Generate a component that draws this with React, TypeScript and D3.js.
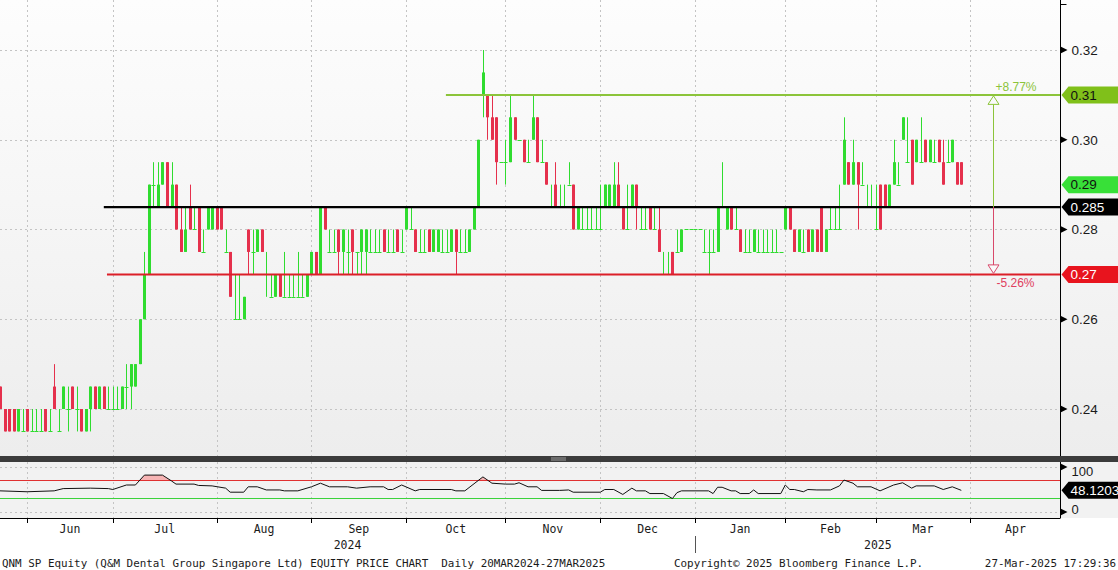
import React, { useEffect } from 'react';
import * as d3 from 'd3';

// QNM SP daily bars, one per trading day, [open, high, low, close]
const candles: [number, number, number, number][] = [
  [.245, .245, .24, .24], [.24, .24, .235, .235], [.24, .24, .235, .235], [.24, .24, .235, .235], [.235, .24, .235, .24], [.235, .24, .235, .235],
  [.24, .24, .235, .235], [.235, .24, .235, .235], [.235, .24, .235, .235], [.235, .24, .235, .235], [.24, .24, .235, .235], [.235, .24, .235, .235],
  [.245, .25, .24, .24], [.235, .24, .235, .235], [.24, .245, .24, .245], [.24, .245, .235, .24], [.245, .245, .24, .24], [.24, .245, .235, .24],
  [.24, .24, .235, .235], [.235, .24, .235, .24], [.24, .245, .235, .245], [.245, .245, .24, .24], [.24, .245, .24, .245], [.245, .245, .24, .24],
  [.24, .245, .24, .24], [.24, .245, .24, .24], [.24, .245, .24, .24], [.24, .245, .24, .245], [.245, .25, .24, .245], [.245, .25, .24, .25],
  [.245, .25, .245, .25], [.25, .26, .25, .26], [.26, .275, .26, .27], [.27, .29, .27, .29], [.29, .295, .285, .29], [.285, .295, .285, .29],
  [.29, .295, .29, .295], [.295, .295, .285, .285], [.285, .295, .285, .29], [.29, .29, .28, .28], [.28, .285, .275, .275], [.275, .285, .275, .28],
  [.285, .29, .28, .28], [.28, .285, .28, .28], [.285, .285, .275, .275], [.275, .28, .275, .275], [.28, .285, .28, .285], [.28, .285, .28, .285],
  [.285, .285, .28, .28], [.285, .285, .28, .28], [.275, .28, .275, .275], [.275, .275, .265, .265], [.26, .27, .26, .26], [.26, .27, .26, .26],
  [.26, .265, .26, .265], [.28, .28, .27, .275], [.275, .28, .27, .275], [.275, .28, .275, .28], [.28, .28, .275, .275], [.27, .275, .265, .27],
  [.265, .27, .265, .265], [.265, .27, .265, .27], [.27, .27, .265, .265], [.265, .275, .265, .265], [.265, .27, .265, .265], [.265, .27, .265, .265],
  [.265, .275, .265, .265], [.265, .27, .265, .265], [.265, .27, .265, .27], [.27, .275, .27, .275], [.275, .275, .27, .27], [.27, .285, .27, .285],
  [.285, .285, .28, .28], [.275, .28, .275, .275], [.275, .28, .275, .275], [.28, .28, .27, .275], [.275, .28, .27, .28], [.275, .28, .27, .275],
  [.28, .28, .27, .275], [.275, .275, .27, .275], [.275, .28, .27, .28], [.275, .28, .27, .28], [.275, .28, .275, .275], [.275, .28, .275, .275],
  [.275, .28, .275, .275], [.28, .28, .275, .275], [.275, .28, .275, .275], [.275, .28, .275, .275], [.28, .28, .275, .275], [.275, .28, .275, .275],
  [.28, .285, .28, .285], [.28, .285, .28, .28], [.28, .28, .275, .275], [.275, .28, .275, .275], [.275, .28, .275, .275], [.28, .28, .275, .275],
  [.275, .28, .275, .28], [.275, .28, .275, .28], [.275, .28, .275, .275], [.275, .28, .275, .275], [.275, .28, .275, .28], [.28, .28, .27, .275],
  [.275, .28, .275, .275], [.275, .28, .275, .275], [.275, .28, .275, .28], [.28, .285, .28, .285], [.285, .30, .285, .30], [.31, .32, .305, .315],
  [.31, .31, .30, .305], [.305, .31, .30, .30], [.305, .305, .29, .295], [.295, .295, .295, .295], [.295, .30, .29, .295], [.295, .31, .295, .305],
  [.305, .305, .30, .30], [.30, .30, .30, .30], [.30, .30, .295, .295], [.295, .30, .295, .295], [.30, .31, .30, .305], [.305, .305, .295, .295],
  [.295, .30, .295, .295], [.295, .295, .29, .29], [.285, .29, .285, .285], [.29, .295, .285, .285], [.285, .29, .285, .285], [.285, .29, .285, .285],
  [.29, .295, .29, .29], [.29, .29, .28, .28], [.28, .285, .28, .285], [.28, .285, .28, .28], [.28, .285, .28, .28], [.28, .285, .28, .28],
  [.28, .285, .28, .28], [.28, .29, .28, .28], [.285, .29, .285, .29], [.285, .29, .285, .29], [.285, .295, .285, .29], [.29, .295, .285, .285],
  [.285, .285, .28, .28], [.28, .29, .28, .28], [.285, .29, .285, .29], [.29, .29, .28, .285], [.28, .285, .28, .28], [.28, .285, .28, .28],
  [.285, .285, .28, .28], [.28, .285, .28, .28], [.28, .285, .275, .275], [.27, .275, .27, .27], [.27, .275, .27, .27], [.275, .275, .27, .27],
  [.275, .28, .275, .275], [.275, .28, .275, .28], [.28, .28, .28, .28], [.28, .28, .28, .28], [.28, .28, .28, .28], [.28, .28, .28, .28],
  [.275, .28, .275, .275], [.275, .28, .27, .275], [.275, .28, .275, .275], [.275, .285, .275, .285], [.285, .295, .285, .285], [.28, .285, .28, .285],
  [.285, .285, .28, .28], [.28, .285, .28, .28], [.28, .28, .275, .275], [.275, .28, .275, .275], [.275, .28, .275, .275], [.275, .28, .275, .28],
  [.275, .28, .275, .275], [.275, .28, .275, .275], [.275, .28, .275, .275], [.275, .28, .275, .275], [.275, .28, .275, .275], [.275, .275, .275, .275],
  [.28, .285, .28, .285], [.285, .285, .28, .28], [.28, .28, .275, .275], [.275, .28, .275, .28], [.275, .28, .275, .275], [.28, .28, .275, .275],
  [.275, .28, .275, .28], [.28, .28, .275, .275], [.285, .285, .275, .275], [.275, .28, .275, .28], [.28, .285, .28, .28], [.28, .285, .28, .28],
  [.28, .29, .28, .28], [.29, .305, .29, .30], [.295, .295, .29, .29], [.29, .30, .29, .295], [.295, .295, .28, .29], [.29, .295, .29, .29],
  [.285, .29, .285, .285], [.285, .29, .285, .285], [.28, .29, .28, .28], [.29, .29, .28, .28], [.29, .29, .285, .285], [.285, .29, .285, .29],
  [.29, .30, .29, .295], [.29, .295, .29, .29], [.30, .305, .30, .305], [.295, .305, .295, .295], [.30, .30, .29, .29], [.295, .30, .295, .30],
  [.295, .305, .295, .295], [.30, .30, .295, .295], [.295, .30, .295, .30], [.295, .30, .295, .295], [.30, .30, .295, .295], [.295, .30, .29, .29],
  [.295, .30, .295, .295], [.295, .30, .295, .30], [.295, .295, .29, .29], [.295, .295, .29, .29],
];

const months = ['Jun', 'Jul', 'Aug', 'Sep', 'Oct', 'Nov', 'Dec', 'Jan', 'Feb', 'Mar', 'Apr'];
const monthStart = [6, 25, 48, 69, 90, 112, 133, 154, 174, 194, 215]; // trading-day index
const years = ['2024', '2025'];
const yearStart = [0, 154];
const lastDay = 235;

const priceTicks = [0.24, 0.26, 0.28, 0.3, 0.32];
const rsiTicks = [0, 100];

// RSI read at sampled trading days [day, value]
const rsi: [number, number][] = [
  [0, 47], [6, 45], [12, 47], [14, 52], [20, 53], [24, 52], [25, 50], [28, 60], [30, 60], [32, 82], [36, 82], [38, 69],
  [39, 62], [43, 62], [44, 59], [47, 58], [50, 53], [51, 44], [54, 44], [55, 56], [57, 56], [59, 49], [62, 49], [63, 47],
  [66, 47], [69, 56], [71, 64], [73, 56], [77, 56], [79, 53], [82, 56], [85, 56], [86, 50], [87, 50], [89, 60], [92, 47],
  [93, 50], [100, 50], [101, 47], [103, 47], [107, 78], [109, 64], [112, 62], [114, 62], [115, 65], [117, 56], [119, 56],
  [120, 48], [124, 48], [126, 49], [127, 44], [133, 44], [134, 50], [136, 50], [138, 39], [140, 53], [141, 47], [143, 47],
  [144, 41], [147, 41], [149, 30], [150, 43], [151, 47], [157, 47], [158, 41], [159, 55], [160, 55], [162, 47], [163, 47],
  [164, 41], [166, 41], [167, 49], [168, 41], [173, 41], [174, 60], [175, 50], [176, 50], [178, 45], [179, 50], [181, 49],
  [184, 49], [186, 58], [187, 71], [189, 64], [190, 56], [193, 56], [195, 47], [198, 60], [200, 65], [202, 53], [203, 58],
  [207, 58], [209, 50], [211, 56], [213, 48.12],
];
const rsiLast = '48.1203';
const rsiHigh = 70;
const rsiLow = 30;

const resistance = 0.31;
const pivot = 0.285;
const support = 0.27;
const lastPrice = 0.29;
const resistanceFrom = 98.8;
const pivotFrom = 23;
const supportFrom = 23.7;
const arrowDay = 220;
const upLabel = '+8.77%';
const downLabel = '-5.26%';

const W = 1118;
const H = 570;
const AX = 1060.5;
const SANS = 'Liberation Sans, Arial, sans-serif';
const MONO = 'DejaVu Sans Mono, monospace';
const GREEN = '#2fdc2f';
const RED = '#e5304c';
const OLIVE = '#8cc43a';

const x = d3.scaleLinear().domain([0, lastDay]).range([0, 1060.6]);
const y = d3.scaleLinear().domain([0.24, 0.32]).range([409, 50]);
const ry = d3.scaleLinear().domain([0, 100]).range([512, 467]);
const fmt = d3.format('.2f');

const Tag = ({ cy, fill, color, label }: { cy: number; fill: string; color: string; label: string }) => (
  <g>
    <path d={`M${AX + 1},${cy} L${AX + 8},${cy - 8.5} H${W} V${cy + 8.5} H${AX + 8} Z`} fill={fill} />
    <text x={AX + 10} y={cy} dy="0.36em" fontSize={13.5} fill={color} fontFamily={SANS}>
      {label}
    </text>
  </g>
);

const Tick = ({ cy }: { cy: number }) => (
  <path d={`M${AX},${cy - 3.5} L${AX + 7},${cy} L${AX},${cy + 3.5} Z`} fill="#000" />
);

const App = () => {
  useEffect(() => {
    document.body.style.margin = '0';
  }, []);

  const rsiLine = d3.line<[number, number]>().x((d) => x(d[0])).y((d) => ry(d[1]));
  const rsiArea = d3
    .area<[number, number]>()
    .x((d) => x(d[0]))
    .y0(ry(rsiHigh))
    .y1((d) => ry(d[1]));

  const ax = Math.round(x(arrowDay)) + 0.5;
  const yr = y(resistance);
  const yp = y(pivot);
  const ys = y(support);

  const bounds = monthStart.concat([lastDay]);

  return (
    <svg width={W} height={H} style={{ position: 'absolute', left: 0, top: 0, background: '#fff' }}>
      <defs>
        <linearGradient id="bg" x1="0" y1="0" x2="0" y2="1">
          <stop offset="0" stopColor="#fdfdfd" />
          <stop offset="1" stopColor="#ededed" />
        </linearGradient>
        <clipPath id="ob">
          <rect x={0} y={462} width={AX} height={ry(rsiHigh) - 462} />
        </clipPath>
      </defs>

      {/* panels */}
      <rect x={0} y={0} width={W} height={456} fill="url(#bg)" />
      <rect x={0} y={462} width={W} height={56} fill="#f2f2f2" />
      <rect x={0} y={456} width={W} height={6} fill="#3c3c3c" />
      <line x1={551} x2={566} y1={458} y2={458} stroke="#9a9a9a" />
      <line x1={551} x2={566} y1={460} y2={460} stroke="#9a9a9a" />

      {/* grid */}
      <g stroke="#c4c4c4" strokeDasharray="2,3">
        {priceTicks.map((p) => (
          <line key={p} x1={0} x2={AX} y1={Math.round(y(p)) + 0.5} y2={Math.round(y(p)) + 0.5} />
        ))}
        {rsiTicks.map((v) => (
          <line key={v} x1={0} x2={AX} y1={Math.round(ry(v)) + 0.5} y2={Math.round(ry(v)) + 0.5} />
        ))}
        {monthStart.map((m) => (
          <g key={m}>
            <line x1={Math.round(x(m)) + 0.5} x2={Math.round(x(m)) + 0.5} y1={0} y2={456} />
            <line x1={Math.round(x(m)) + 0.5} x2={Math.round(x(m)) + 0.5} y1={462} y2={518} />
          </g>
        ))}
      </g>

      {/* candles */}
      <g>
        {candles.map(([o, h, l, c], i) => {
          const cx = Math.round(x(i)) + 0.5;
          if (o === c) {
            return (
              <g key={i} stroke={GREEN}>
                {h > l && <line x1={cx} x2={cx} y1={y(h)} y2={y(l)} />}
                <line x1={cx - 2} x2={cx + 2} y1={Math.round(y(o)) + 0.5} y2={Math.round(y(o)) + 0.5} />
              </g>
            );
          }
          const col = c > o ? GREEN : RED;
          const top = y(Math.max(o, c));
          const bot = y(Math.min(o, c));
          return (
            <g key={i}>
              <line x1={cx} x2={cx} y1={y(h)} y2={y(l)} stroke={col} />
              <rect x={cx - 1.5} y={top} width={3} height={bot - top} fill={col} />
            </g>
          );
        })}
      </g>

      {/* levels */}
      <line x1={x(resistanceFrom)} x2={AX} y1={yr} y2={yr} stroke={OLIVE} strokeWidth={2} />
      <line x1={x(pivotFrom)} x2={AX} y1={yp} y2={yp} stroke="#000" strokeWidth={2.2} />
      <line x1={x(supportFrom)} x2={AX} y1={ys} y2={ys} stroke="#dc1f28" strokeWidth={2} />

      {/* range arrows */}
      <line x1={ax} x2={ax} y1={yr + 9} y2={yp} stroke={OLIVE} />
      <line x1={ax} x2={ax} y1={yp} y2={ys - 9} stroke="#d8486a" />
      <path d={`M${ax},${yr + 1} L${ax + 5.5},${yr + 9.5} L${ax - 5.5},${yr + 9.5} Z`} fill="#fafafa" stroke={OLIVE} />
      <path d={`M${ax},${ys - 1} L${ax + 5.5},${ys - 9.5} L${ax - 5.5},${ys - 9.5} Z`} fill="#fafafa" stroke="#d8486a" />
      <text x={ax + 2} y={yr - 4} fontSize={12} fill={OLIVE} fontFamily={SANS}>
        {upLabel}
      </text>
      <text x={ax + 3} y={ys + 13} fontSize={12} fill="#e0405e" fontFamily={SANS}>
        {downLabel}
      </text>

      {/* RSI */}
      <path d={rsiArea(rsi) || ''} fill="#f6b4b4" clipPath="url(#ob)" />
      <line x1={0} x2={AX} y1={ry(rsiHigh)} y2={ry(rsiHigh)} stroke="#e03030" />
      <line x1={0} x2={AX} y1={ry(rsiLow)} y2={ry(rsiLow)} stroke="#3cd23c" />
      <path d={rsiLine(rsi) || ''} fill="none" stroke="#111" strokeWidth={1} />

      {/* right axis */}
      <line x1={AX} x2={AX} y1={0} y2={456} stroke="#000" />
      <line x1={AX} x2={AX} y1={462} y2={518} stroke="#000" />
      <line x1={AX} x2={AX + 6} y1={4.5} y2={4.5} stroke="#000" />
      {priceTicks.map((p) => (
        <g key={p}>
          <Tick cy={y(p)} />
          <text x={AX + 11} y={y(p)} dy="0.36em" fontSize={13.5} fill="#1a1a1a" fontFamily={SANS}>
            {fmt(p)}
          </text>
        </g>
      ))}
      <Tag cy={yr} fill="#80c01a" color="#111" label={String(resistance)} />
      <Tag cy={y(lastPrice)} fill="#38e038" color="#111" label={String(lastPrice)} />
      <Tag cy={yp} fill="#000" color="#fff" label={String(pivot)} />
      <Tag cy={ys} fill="#e8141e" color="#fff" label={String(support)} />

      {rsiTicks.map((v) => (
        <g key={v}>
          <Tick cy={ry(v)} />
          <text x={AX + 11} y={v === 0 ? ry(v) - 3 : ry(v) + 4} dy="0.36em" fontSize={13} fill="#1a1a1a" fontFamily={SANS}>
            {v}
          </text>
        </g>
      ))}
      <Tag cy={ry(48.12)} fill="#000" color="#fff" label={rsiLast} />

      {/* time axis */}
      <line x1={0} x2={AX} y1={518.5} y2={518.5} stroke="#000" />
      {monthStart.map((m) => (
        <line key={m} x1={Math.round(x(m)) + 0.5} x2={Math.round(x(m)) + 0.5} y1={518} y2={523} stroke="#000" />
      ))}
      {months.map((m, i) => (
        <text
          key={m}
          x={(x(bounds[i]) + x(bounds[i + 1])) / 2}
          y={533}
          textAnchor="middle"
          fontSize={11.5}
          fill="#1a1a1a"
          fontFamily={MONO}
        >
          {m}
        </text>
      ))}
      {years.map((yy, i) => {
        const a = x(yearStart[i]);
        const b = i + 1 < yearStart.length ? x(yearStart[i + 1]) : x(lastDay);
        return (
          <text key={yy} x={(a + b) / 2} y={549} textAnchor="middle" fontSize={11.5} fill="#1a1a1a" fontFamily={MONO}>
            {yy}
          </text>
        );
      })}
      <line x1={Math.round(x(yearStart[1])) + 0.5} x2={Math.round(x(yearStart[1])) + 0.5} y1={536} y2={553} stroke="#555" />

      {/* footer */}
      <g fontFamily={MONO} fontSize={10.9} fill="#1a1a1a">
        <text x={2} y={567}>
          {'QNM SP Equity (Q&M Dental Group Singapore Ltd) EQUITY PRICE CHART\u00a0 Daily 20MAR2024-27MAR2025'}
        </text>
        <text x={674} y={567}>
          {'Copyright\u00a9 2025 Bloomberg Finance L.P.'}
        </text>
        <text x={1116} y={567} textAnchor="end">
          {'27-Mar-2025 17:29:36'}
        </text>
      </g>
    </svg>
  );
};

export default App;
